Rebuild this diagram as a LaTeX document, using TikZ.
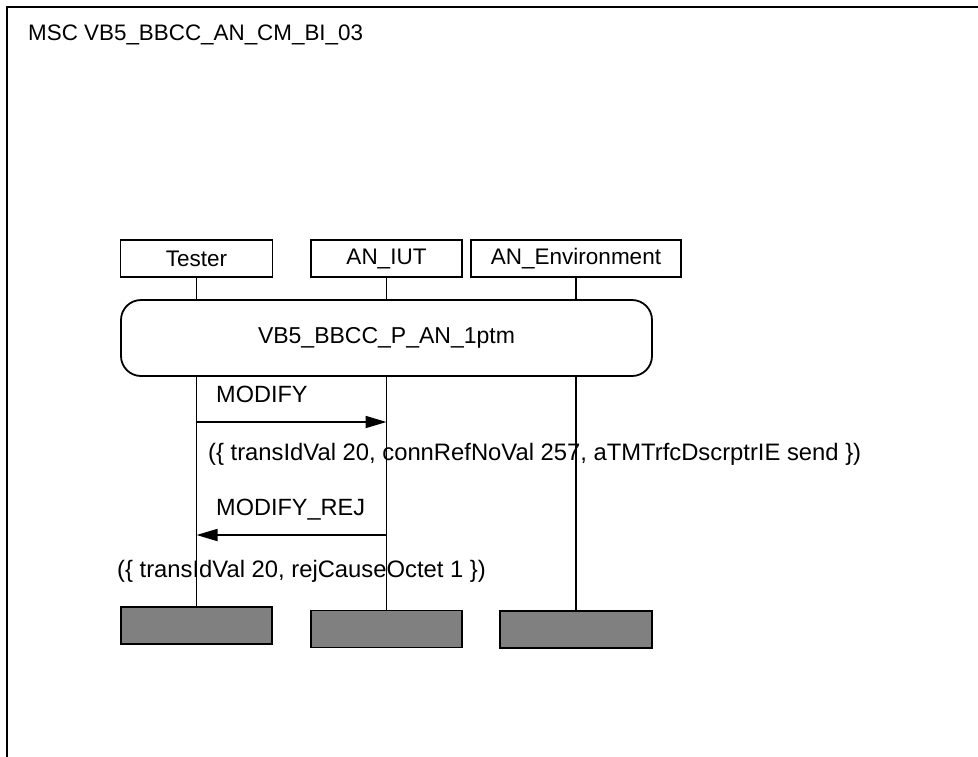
\documentclass[tikz,border=0pt]{standalone}
\usepackage{fontspec}
\setmainfont{Liberation Sans}
\usetikzlibrary{arrows.meta}
\begin{document}
\begin{tikzpicture}[x=1pt,y=-1pt,
  ln/.style={line width=1.8pt},
  head/.style={draw,line width=1.8pt,minimum height=37pt,inner sep=0pt,font=\fontsize{22.5}{26}\selectfont},
  endbox/.style={draw,line width=1.8pt,fill={rgb,255:red,128;green,128;blue,128},minimum height=37pt,inner sep=0pt},
  refbox/.style={draw,line width=1.8pt,rounded corners=20pt,minimum width=531pt,minimum height=76pt,inner sep=0pt,font=\fontsize{23}{27}\selectfont},
  lbl/.style={anchor=base west,inner sep=0pt,font=\fontsize{23.5}{28}\selectfont},
  msg/.style={line width=1.8pt,-{Triangle[length=21pt,width=12pt]}}
]
\useasboundingbox (0,0) rectangle (978,756);
% frame
\draw[line width=2pt] (7,770) -- (7,7) -- (990,7);
\node[anchor=base west,inner sep=0pt,font=\fontsize{22.4}{27}\selectfont] (title) at (28,40) {MSC VB5\_BBCC\_AN\_CM\_BI\_03};
% instance heads
\node[head,minimum width=152pt] (tester) at (196.5,258.5) {Tester};
\node[head,minimum width=151pt] (iut) at (386.5,258.5) {AN\_IUT};
\node[head,minimum width=210pt] (env) at (576,258.5) {AN\_Environment};
% reference
\node[refbox] (ref) at (386.5,338) {VB5\_BBCC\_P\_AN\_1ptm};
% end boxes
\node[endbox,minimum width=151pt] (tend) at (196.5,625.5) {};
\node[endbox,minimum width=151pt] (iend) at (386.5,629) {};
\node[endbox,minimum width=152pt] (eend) at (576,629.5) {};
% lifelines
\draw[ln] (tester.south) -- (tester.south |- ref.north);
\draw[ln] (iut.south) -- (iut.south |- ref.north);
\draw[ln] (env.south) -- (env.south |- ref.north);
\draw[ln] (tester.south |- ref.south) -- (tend.north);
\draw[ln] (iut.south |- ref.south) -- (iend.north);
\draw[ln] (env.south |- ref.south) -- (eend.north);
% messages
\coordinate (m1s) at (196.5,422);
\coordinate (m1e) at (386.5,422);
\coordinate (m2s) at (386.5,535);
\coordinate (m2e) at (196.5,535);
\draw[msg] (m1s) -- (m1e);
\draw[msg] (m2s) -- (m2e);
\node[lbl] (l1) at (216,402) {MODIFY};
\node[lbl,font=\fontsize{23.8}{28}\selectfont] (p1) at (208,460) {(\{ transIdVal 20, connRefNoVal 257, aTMTrfcDscrptrIE send \})};
\node[lbl] (l2) at (216,515) {MODIFY\_REJ};
\node[lbl,font=\fontsize{23.8}{28}\selectfont] (p2) at (117,577) {(\{ transIdVal 20, rejCauseOctet 1 \})};
\end{tikzpicture}
\end{document}
